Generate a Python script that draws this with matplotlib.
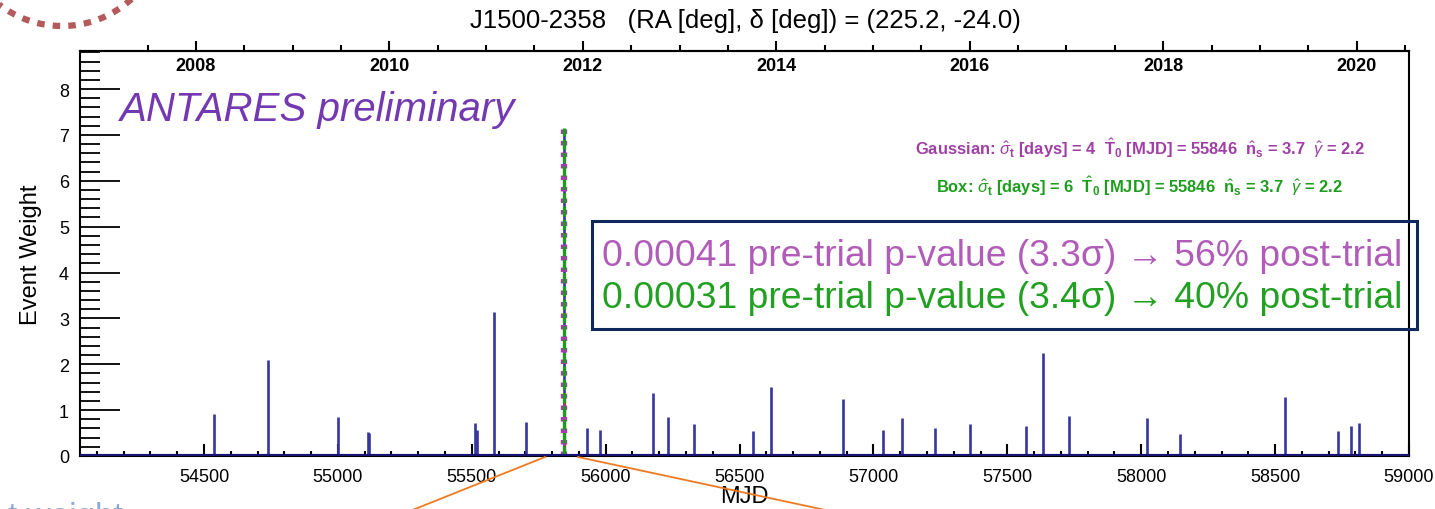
import numpy as np
import matplotlib
matplotlib.use("Agg")
import matplotlib.pyplot as plt
from matplotlib.ticker import MultipleLocator, FixedLocator
from matplotlib.patches import Rectangle
from matplotlib.lines import Line2D

plt.rcParams['font.family'] = ['Liberation Sans', 'DejaVu Sans']
plt.rcParams['mathtext.fontset'] = 'custom'
plt.rcParams['mathtext.rm'] = 'Liberation Sans'
plt.rcParams['mathtext.it'] = 'Liberation Sans:italic'
plt.rcParams['mathtext.bf'] = 'Liberation Sans:bold'

# event times (MJD) and weights
event_mjd = [54539, 54740, 55000, 55112, 55118, 55513, 55518, 55582, 55704,
             55846, 55931, 55979, 56178, 56231, 56331, 56551, 56616, 56885,
             57034, 57106, 57230, 57360, 57569, 57634, 57729, 58022, 58146,
             58538, 58736, 58782, 58812]
event_w = [0.91, 2.10, 0.86, 0.53, 0.50, 0.71, 0.57, 3.14, 0.75,
           7.00, 0.62, 0.57, 1.38, 0.85, 0.70, 0.55, 1.50, 1.25,
           0.57, 0.82, 0.62, 0.70, 0.66, 2.25, 0.88, 0.82, 0.48,
           1.28, 0.55, 0.65, 0.72]

# best-fit flare
t0_fit = 55846
gauss_peak = 7.2
box_peak = 7.15
extra_mjd = 55849
extra_w = 1.2

year_major = [2008, 2010, 2012, 2014, 2016, 2018, 2020]
year_minor = [2007.5 + 0.5 * i for i in range(27)]

title = 'J1500-2358   (RA [deg], δ [deg]) = (225.2, -24.0)'
gauss_txt = (r'Gaussian: $\hat{\sigma}_{\mathbf{t}}$ [days] = 4  $\hat{\mathbf{T}}_{\mathbf{0}}$ [MJD] = 55846  '
             r'$\hat{\mathbf{n}}_{\mathbf{s}}$ = 3.7  $\hat{\gamma}$ = 2.2')
box_txt = (r'Box: $\hat{\sigma}_{\mathbf{t}}$ [days] = 6  $\hat{\mathbf{T}}_{\mathbf{0}}$ [MJD] = 55846  '
           r'$\hat{\mathbf{n}}_{\mathbf{s}}$ = 3.7  $\hat{\gamma}$ = 2.2')
pval_lines = ['0.00041 pre-trial p-value (3.3σ) → 56% post-trial',
              '0.00031 pre-trial p-value (3.4σ) → 40% post-trial']

W, H = 1435, 510


def px(x, y):
    return x / W, 1 - y / H


fig = plt.figure(figsize=(W / 100, H / 100), dpi=100)
ax = fig.add_axes([80 / W, 1 - 457 / H, (1409 - 80) / W, (457 - 52) / H])

ax.vlines(event_mjd, 0, event_w, color='#35359e', lw=1.9, zorder=3)
ax.vlines([extra_mjd], 0, [extra_w], color='#a0403a', lw=1.6, zorder=3)
ax.plot([t0_fit, t0_fit], [0, gauss_peak], color='#a040a8', lw=4.6,
        dashes=(0.7, 1.1), zorder=4)
ax.plot([t0_fit, t0_fit], [0, box_peak], color='#1e9a1e', lw=2.4,
        dashes=(3, 1), zorder=5)
ax.axhline(0, color='#1a1474', lw=3, zorder=6)

ax.set_xlim(54037, 59000)
ax.set_ylim(0, 8.83)

ax.xaxis.set_major_locator(MultipleLocator(500))
ax.xaxis.set_minor_locator(MultipleLocator(100))
ax.yaxis.set_major_locator(MultipleLocator(1))
ax.yaxis.set_minor_locator(MultipleLocator(0.2))
ax.tick_params(axis='x', which='major', direction='in', length=8.5, width=1.5,
               labelsize=13, pad=9, top=False)
ax.tick_params(axis='x', which='minor', direction='in', length=3.5, width=1.5,
               top=False)
ax.tick_params(axis='y', which='major', direction='in', length=29, width=1.3,
               labelsize=13, pad=8, right=False)
ax.tick_params(axis='y', which='minor', direction='in', length=14.5, width=1.3,
               right=False)
for s in ax.spines.values():
    s.set_linewidth(1.5)

ax.set_xlabel('MJD', fontsize=17, labelpad=0)
ax.set_ylabel('Event Weight', fontsize=17, labelpad=12)

# calendar years on top
sec = ax.secondary_xaxis('top', functions=(lambda m: 2008 + (m - 54470) / 361.2,
                                           lambda y: 54470 + (y - 2008) * 361.2))
sec.xaxis.set_major_locator(FixedLocator(year_major))
sec.xaxis.set_minor_locator(FixedLocator(year_minor))
sec.tick_params(which='major', direction='out', length=7.5, width=1.5,
                labelsize=13, pad=-24)
sec.tick_params(which='minor', direction='out', length=4, width=1.5)
for lab in sec.get_xticklabels():
    lab.set_fontweight('bold')
sec.spines['top'].set_linewidth(1.5)

fig.text(*px(745, 21), title, fontsize=18.5, ha='center', va='center')

ax.text(*px(120, 110), 'ANTARES preliminary', transform=fig.transFigure,
        fontsize=29, style='italic', color='#7438b0', va='center', ha='left')

fig.text(*px(1365, 148), gauss_txt, fontsize=11.9, fontweight='bold',
         color='#a040a6', ha='right', va='center')
fig.text(*px(1343, 186), box_txt, fontsize=11.9, fontweight='bold',
         color='#1e9e1e', ha='right', va='center')

x0, y1 = px(592, 330)
x1, y0 = px(1417, 222)
fig.add_artist(Rectangle((x0, y1), x1 - x0, y0 - y1, transform=fig.transFigure,
                         fill=False, edgecolor='#10285c', lw=2.2, zorder=10))
fig.text(*px(602, 256), pval_lines[0], fontsize=26.8, color='#b05cb8',
         ha='left', va='center', zorder=11)
fig.text(*px(602, 299), pval_lines[1], fontsize=26.8, color='#22a022',
         ha='left', va='center', zorder=11)

# slide decorations
for (xa, ya), (xb, yb) in [((545, 458), (410, 512)), ((578, 458), (830, 512))]:
    fig.add_artist(Line2D([xa / W, xb / W], [1 - ya / H, 1 - yb / H],
                          transform=fig.transFigure, color='#f07a22', lw=1.3))
th = np.linspace(np.radians(35), np.radians(148), 60)
arc_x = 62 + 103 * np.cos(th)
arc_y = -76 + 103 * np.sin(th)
fig.add_artist(Line2D(arc_x / W, 1 - arc_y / H, transform=fig.transFigure,
                      color='#b45a5a', lw=4.5, dashes=(1.2, 1.3)))
fig.text(*px(8, 502), 't weight', fontsize=24, color='#8aa8da',
         ha='left', va='top')

fig.savefig('out.png', dpi=100)
